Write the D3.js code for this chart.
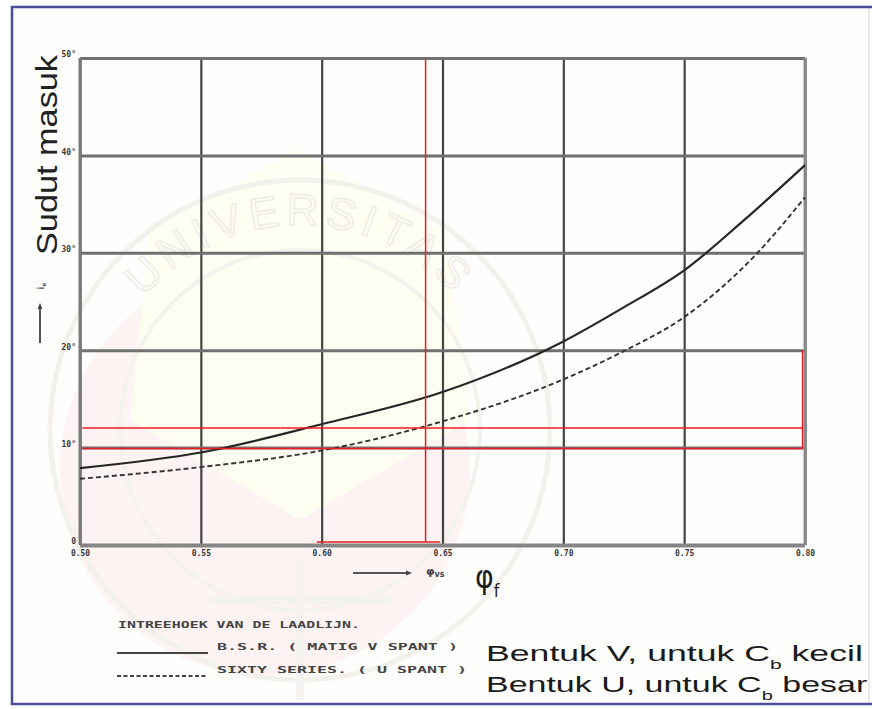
<!DOCTYPE html>
<html>
<head>
<meta charset="utf-8">
<script src="https://cdn.jsdelivr.net/npm/d3@7"></script>
<style>
  html, body { margin: 0; padding: 0; background: #fff; }
  svg { display: block; }
</style>
</head>
<body>
<svg id="chart" width="872" height="709"></svg>
<script>
// Prismatic coefficient of the fore body (x) and half angle of entrance in degrees (y)
const xTicks = [0.50, 0.55, 0.60, 0.65, 0.70, 0.75, 0.80];
const yTicks = [0, 10, 20, 30, 40, 50];

// B.S.R. series, moderate V sections
const vSectionCurve = [
  [0.50, 7.9], [0.55, 9.5], [0.60, 12.4], [0.65, 15.7], [0.70, 20.9],
  [0.725, 24.4], [0.75, 28.2], [0.775, 33.4], [0.80, 39.0]
];
// Sixty series, U sections
const uSectionCurve = [
  [0.50, 6.8], [0.55, 8.0], [0.60, 9.7], [0.65, 12.7], [0.70, 17.0],
  [0.725, 19.9], [0.75, 23.4], [0.78, 29.9], [0.80, 35.7]
];

// Red reading lines drawn over the diagram: [[phi, deg], [phi, deg]]
const readingLines = [
  [[0.643, 0.3], [0.643, 49.8]],
  [[0.598, 0.3], [0.649, 0.3]],
  [[0.501, 12.0], [0.799, 12.0]],
  [[0.501, 9.9], [0.799, 9.9]],
  [[0.799, 9.9], [0.799, 20.0]]
];

const legendTitle = "INTREEHOEK VAN DE LAADLIJN.";
const legendNames = ["B.S.R. ( MATIG V SPANT )", "SIXTY SERIES. ( U SPANT )"];
const shapeNotes = [
  ["Bentuk V, untuk C", "b", " kecil"],
  ["Bentuk U, untuk C", "b", " besar"]
];

const W = 872, H = 709;
const plot = { left: 80, right: 805, top: 58, bottom: 545 };

const svg = d3.select("#chart");

const x = d3.scaleLinear().domain([0.50, 0.80]).range([plot.left, plot.right]);
const y = d3.scaleLinear().domain([0, 50]).range([plot.bottom, plot.top]);

// page and frame
svg.append("rect").attr("width", W).attr("height", H).attr("fill", "#ffffff");
const defs = svg.append("defs");
defs.append("clipPath").attr("id", "frameClip")
  .append("rect").attr("x", 13).attr("y", 8).attr("width", 858).attr("height", 695);
svg.append("rect").attr("x", 12).attr("y", 7).attr("width", 880).attr("height", 697)
  .attr("fill", "#fefefc");

// faint seal printed behind the diagram
const seal = svg.append("g").attr("clip-path", "url(#frameClip)");
seal.append("circle").attr("cx", 265).attr("cy", 470).attr("r", 205)
  .attr("fill", "#fcf0f0").attr("opacity", 0.8);
seal.append("path")
  .attr("d", "M296,150 L445,232 L470,420 L300,520 L130,420 L150,232 Z")
  .attr("fill", "#fefef0").attr("opacity", 0.85);
seal.append("circle").attr("cx", 300).attr("cy", 430).attr("r", 250)
  .attr("fill", "none").attr("stroke", "#f3f1ec").attr("stroke-width", 5);
seal.append("circle").attr("cx", 300).attr("cy", 430).attr("r", 180)
  .attr("fill", "none").attr("stroke", "#f4f2ed").attr("stroke-width", 4);
seal.append("path").attr("id", "sealArc")
  .attr("d", "M95,430 A205,205 0 0 1 505,430").attr("fill", "none");
seal.append("text").attr("font-family", "Liberation Sans, Arial, sans-serif")
  .attr("font-size", 44).attr("fill", "none").attr("stroke", "#eeece6")
  .attr("stroke-width", 1.5).attr("letter-spacing", 6)
  .append("textPath").attr("href", "#sealArc").attr("startOffset", "50%")
  .attr("text-anchor", "middle").text("UNIVERSITAS");
seal.append("path")
  .attr("d", "M300,560 L300,700 M210,600 L390,600")
  .attr("stroke", "#f4f3ef").attr("stroke-width", 8).attr("fill", "none");

// vertical grid + x tick labels
const gx = svg.append("g")
  .attr("transform", `translate(0,${plot.bottom})`)
  .call(d3.axisBottom(x).tickValues(xTicks).tickSize(-(plot.bottom - plot.top))
    .tickFormat(d3.format(".2f")).tickPadding(5));
gx.select(".domain").remove();
gx.selectAll(".tick line").attr("stroke", "#434343").attr("stroke-width", 2.2);
gx.selectAll(".tick text")
  .attr("font-family", "DejaVu Sans Mono, monospace").attr("font-weight", "bold")
  .attr("font-size", 8).attr("fill", "#3a3a3a");

// horizontal grid + y tick labels
const gy = svg.append("g")
  .attr("transform", `translate(${plot.left},0)`)
  .call(d3.axisLeft(y).tickValues(yTicks).tickSize(-(plot.right - plot.left))
    .tickFormat(d => d === 0 ? "0" : d + "°").tickPadding(4));
gy.select(".domain").remove();
gy.selectAll(".tick line")
  .attr("stroke", d => d === 0 ? "#858585" : "#707070")
  .attr("stroke-width", d => d === 0 ? 4 : 3);
gy.selectAll(".tick text")
  .attr("font-family", "DejaVu Sans Mono, monospace").attr("font-weight", "bold")
  .attr("font-size", 8).attr("fill", "#3a3a3a").attr("dy", "-0.15em");

// outer lines of the diagram
svg.append("line").attr("x1", plot.left).attr("x2", plot.left)
  .attr("y1", plot.top).attr("y2", plot.bottom)
  .attr("stroke", "#7a7a7a").attr("stroke-width", 3);
svg.append("line").attr("x1", plot.right).attr("x2", plot.right)
  .attr("y1", plot.top).attr("y2", plot.bottom)
  .attr("stroke", "#8a8a8a").attr("stroke-width", 3);

// curves
const line = d3.line()
  .x(d => x(d[0])).y(d => y(d[1]))
  .curve(d3.curveMonotoneX);

svg.append("path").datum(vSectionCurve).attr("d", line)
  .attr("fill", "none").attr("stroke", "#262626").attr("stroke-width", 2.2);
svg.append("path").datum(uSectionCurve).attr("d", line)
  .attr("fill", "none").attr("stroke", "#333").attr("stroke-width", 1.9)
  .attr("stroke-dasharray", "5,3");

// red reading lines
svg.append("g").selectAll("line").data(readingLines).join("line")
  .attr("x1", d => x(d[0][0])).attr("y1", d => y(d[0][1]))
  .attr("x2", d => x(d[1][0])).attr("y2", d => y(d[1][1]))
  .attr("stroke", "#ec1c24").attr("stroke-width", 1.5);

// axis titles
defs.append("marker").attr("id", "arrowHead").attr("viewBox", "0 0 10 10")
  .attr("refX", 5).attr("refY", 5).attr("markerWidth", 3).attr("markerHeight", 3)
  .attr("orient", "auto")
  .append("path").attr("d", "M0,1 L10,5 L0,9 Z").attr("fill", "#444");

svg.append("line").attr("x1", 353).attr("x2", 409).attr("y1", 573).attr("y2", 573)
  .attr("stroke", "#555").attr("stroke-width", 2).attr("marker-end", "url(#arrowHead)");
svg.append("text").attr("x", 426).attr("y", 575)
  .attr("font-family", "DejaVu Sans, sans-serif").attr("font-size", 11)
  .attr("font-weight", "bold").attr("fill", "#444")
  .text("φ").append("tspan").attr("font-size", 8).attr("dy", 2).text("vs");

const phiTitle = svg.append("text")
  .attr("transform", "translate(475,588) scale(0.95,1.05)")
  .attr("font-family", "DejaVu Sans, sans-serif").attr("font-size", 30).attr("fill", "#1e1e1e");
phiTitle.append("tspan").text("φ");
phiTitle.append("tspan").attr("font-size", 17).attr("dy", 9).text("f");

svg.append("text")
  .attr("transform", "translate(57,155) rotate(-90)")
  .attr("text-anchor", "middle")
  .attr("font-family", "Liberation Sans, Arial, sans-serif").attr("font-size", 29)
  .attr("fill", "#222").attr("textLength", 200).attr("lengthAdjust", "spacingAndGlyphs")
  .text("Sudut masuk");

svg.append("line").attr("x1", 40).attr("x2", 40).attr("y1", 343).attr("y2", 306)
  .attr("stroke", "#555").attr("stroke-width", 2).attr("marker-end", "url(#arrowHead)");
svg.append("text")
  .attr("transform", "translate(44,286) rotate(-90)").attr("text-anchor", "middle")
  .attr("font-family", "DejaVu Sans, sans-serif").attr("font-size", 8)
  .attr("font-weight", "bold").attr("fill", "#555")
  .text("i").append("tspan").attr("font-size", 6).attr("dy", 1.5).text("e");

// legend
const mono = "DejaVu Sans Mono, monospace";
svg.append("text").attr("x", 118).attr("y", 628)
  .attr("font-family", mono).attr("font-weight", "bold").attr("font-size", 9)
  .attr("fill", "#444").attr("textLength", 242).attr("lengthAdjust", "spacingAndGlyphs")
  .text(legendTitle);

const legendRows = [
  { y: 650, dash: null, len: 241 },
  { y: 673, dash: "4,2.5", len: 250 }
];
legendRows.forEach((r, i) => {
  svg.append("line").attr("x1", 117).attr("x2", 208).attr("y1", r.y + 3).attr("y2", r.y + 3)
    .attr("stroke", "#444").attr("stroke-width", i === 0 ? 2 : 1.8)
    .attr("stroke-dasharray", r.dash);
  svg.append("text").attr("x", 217).attr("y", r.y)
    .attr("font-family", mono).attr("font-weight", "bold").attr("font-size", 9)
    .attr("fill", "#444").attr("textLength", r.len).attr("lengthAdjust", "spacingAndGlyphs")
    .text(legendNames[i]);
});

// notes on section shape (second line a touch narrower so it stays inside the page)
[[661, 1.62], [692, 1.545]].forEach(([baseY, stretch], i) => {
  const t = svg.append("text")
    .attr("transform", `translate(486,${baseY}) scale(${stretch},1)`)
    .attr("font-family", "Liberation Sans, Arial, sans-serif")
    .attr("font-size", 22).attr("fill", "#1a1a1a");
  t.append("tspan").text(shapeNotes[i][0]);
  t.append("tspan").attr("font-size", 13).attr("dy", 8).text(shapeNotes[i][1]);
  t.append("tspan").attr("dy", -8).text(shapeNotes[i][2]);
});

// frame border on top
svg.append("rect").attr("x", 12).attr("y", 7).attr("width", 880).attr("height", 697)
  .attr("fill", "none").attr("stroke", "#4d4d9e").attr("stroke-width", 2.5);
svg.append("line").attr("x1", 869).attr("x2", 869).attr("y1", 9).attr("y2", 702)
  .attr("stroke", "#e2e2e2").attr("stroke-width", 1.5);
</script>
</body>
</html>
